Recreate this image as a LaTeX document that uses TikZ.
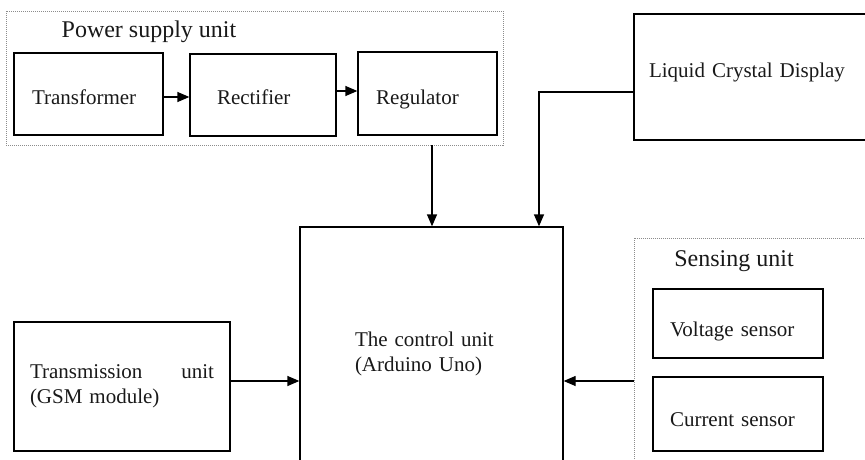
\documentclass[tikz,border=0pt]{standalone}
\usepackage{fontspec}
\setmainfont{Liberation Serif}
\usetikzlibrary{arrows.meta}
\newcommand{\dnstrut}[1]{\rule{0pt}{#1pt}}
\newcommand{\upstrut}[1]{\rule[-#1pt]{0pt}{#1pt}}
\begin{document}
\begin{tikzpicture}[x=1pt,y=-1pt,
  box/.style={draw=black, line width=1.3pt, rectangle, inner ysep=0pt, align=left,
    font=\fontsize{21}{25}\selectfont, text=black!90},
  group/.style={draw=black!45, line width=0.8pt, dash pattern=on 1pt off 1pt, rectangle, inner sep=0pt},
  title/.style={font=\fontsize{24}{28}\selectfont, text=black!90, inner sep=0pt},
  arr/.style={line width=1.3pt, -{Triangle[length=12pt,width=10pt]}}]
\useasboundingbox (0,0) rectangle (865,460);
\clip (0,0) rectangle (865,460);
% groups
\node[group, minimum width=497, minimum height=134] (psu) at (254.5,78) {};
\node[group, minimum width=246, minimum height=262] (sense) at (757,369) {};
\node[title] (psut) at (149,32) {Power supply unit};
\node[title] (senset) at (734,261) {Sensing unit};
% boxes
\node[box, minimum width=149, minimum height=82, inner xsep=18, text width=113] (tr) at (88.5,94) {\dnstrut{20.5}Transformer};
\node[box, minimum width=146, minimum height=82, inner xsep=27, text width=92] (rect) at (263,95) {\dnstrut{18.5}Rectifier};
\node[box, minimum width=139, minimum height=83, inner xsep=18, text width=103] (reg) at (427.5,93.5) {\dnstrut{26}Regulator};
\node[box, minimum width=241, minimum height=126, inner xsep=15, text width=211] (lcd) at (754.5,77) {\upstrut{12.6}Liquid Crystal Display};
\node[box, minimum width=263, minimum height=253, inner xsep=55, text width=153] (ctrl) at (431.5,353.5) {The control unit\\(Arduino Uno)};
\node[box, minimum width=216, minimum height=129, inner xsep=16, text width=184] (trans) at (122,386.5) {Transmission\hfill unit\\(GSM module)};
\node[box, minimum width=170, minimum height=69, inner xsep=17, text width=136] (volt) at (738,323.5) {\dnstrut{31.5}Voltage sensor};
\node[box, minimum width=170, minimum height=74, inner xsep=17, text width=136] (curr) at (738,414) {\dnstrut{24.5}Current sensor};
% connectors
\draw[arr] ([yshift=-3pt]tr.east) coordinate (c1) -- (c1 -| rect.west);
\draw[arr] ([yshift=4pt]rect.east) coordinate (c2) -- (c2 -| reg.west);
\draw[arr] ([xshift=177.5pt]psu.south) coordinate (c3) -- (c3 |- ctrl.north);
\draw[arr] ([yshift=-15pt]lcd.west) -| ([xshift=107.5pt]ctrl.north);
\draw[arr] ([yshift=5.5pt]trans.east) coordinate (c4) -- (c4 -| ctrl.west);
\draw[arr] (sense.west |- c4) -- (c4 -| ctrl.east);
\end{tikzpicture}
\end{document}
